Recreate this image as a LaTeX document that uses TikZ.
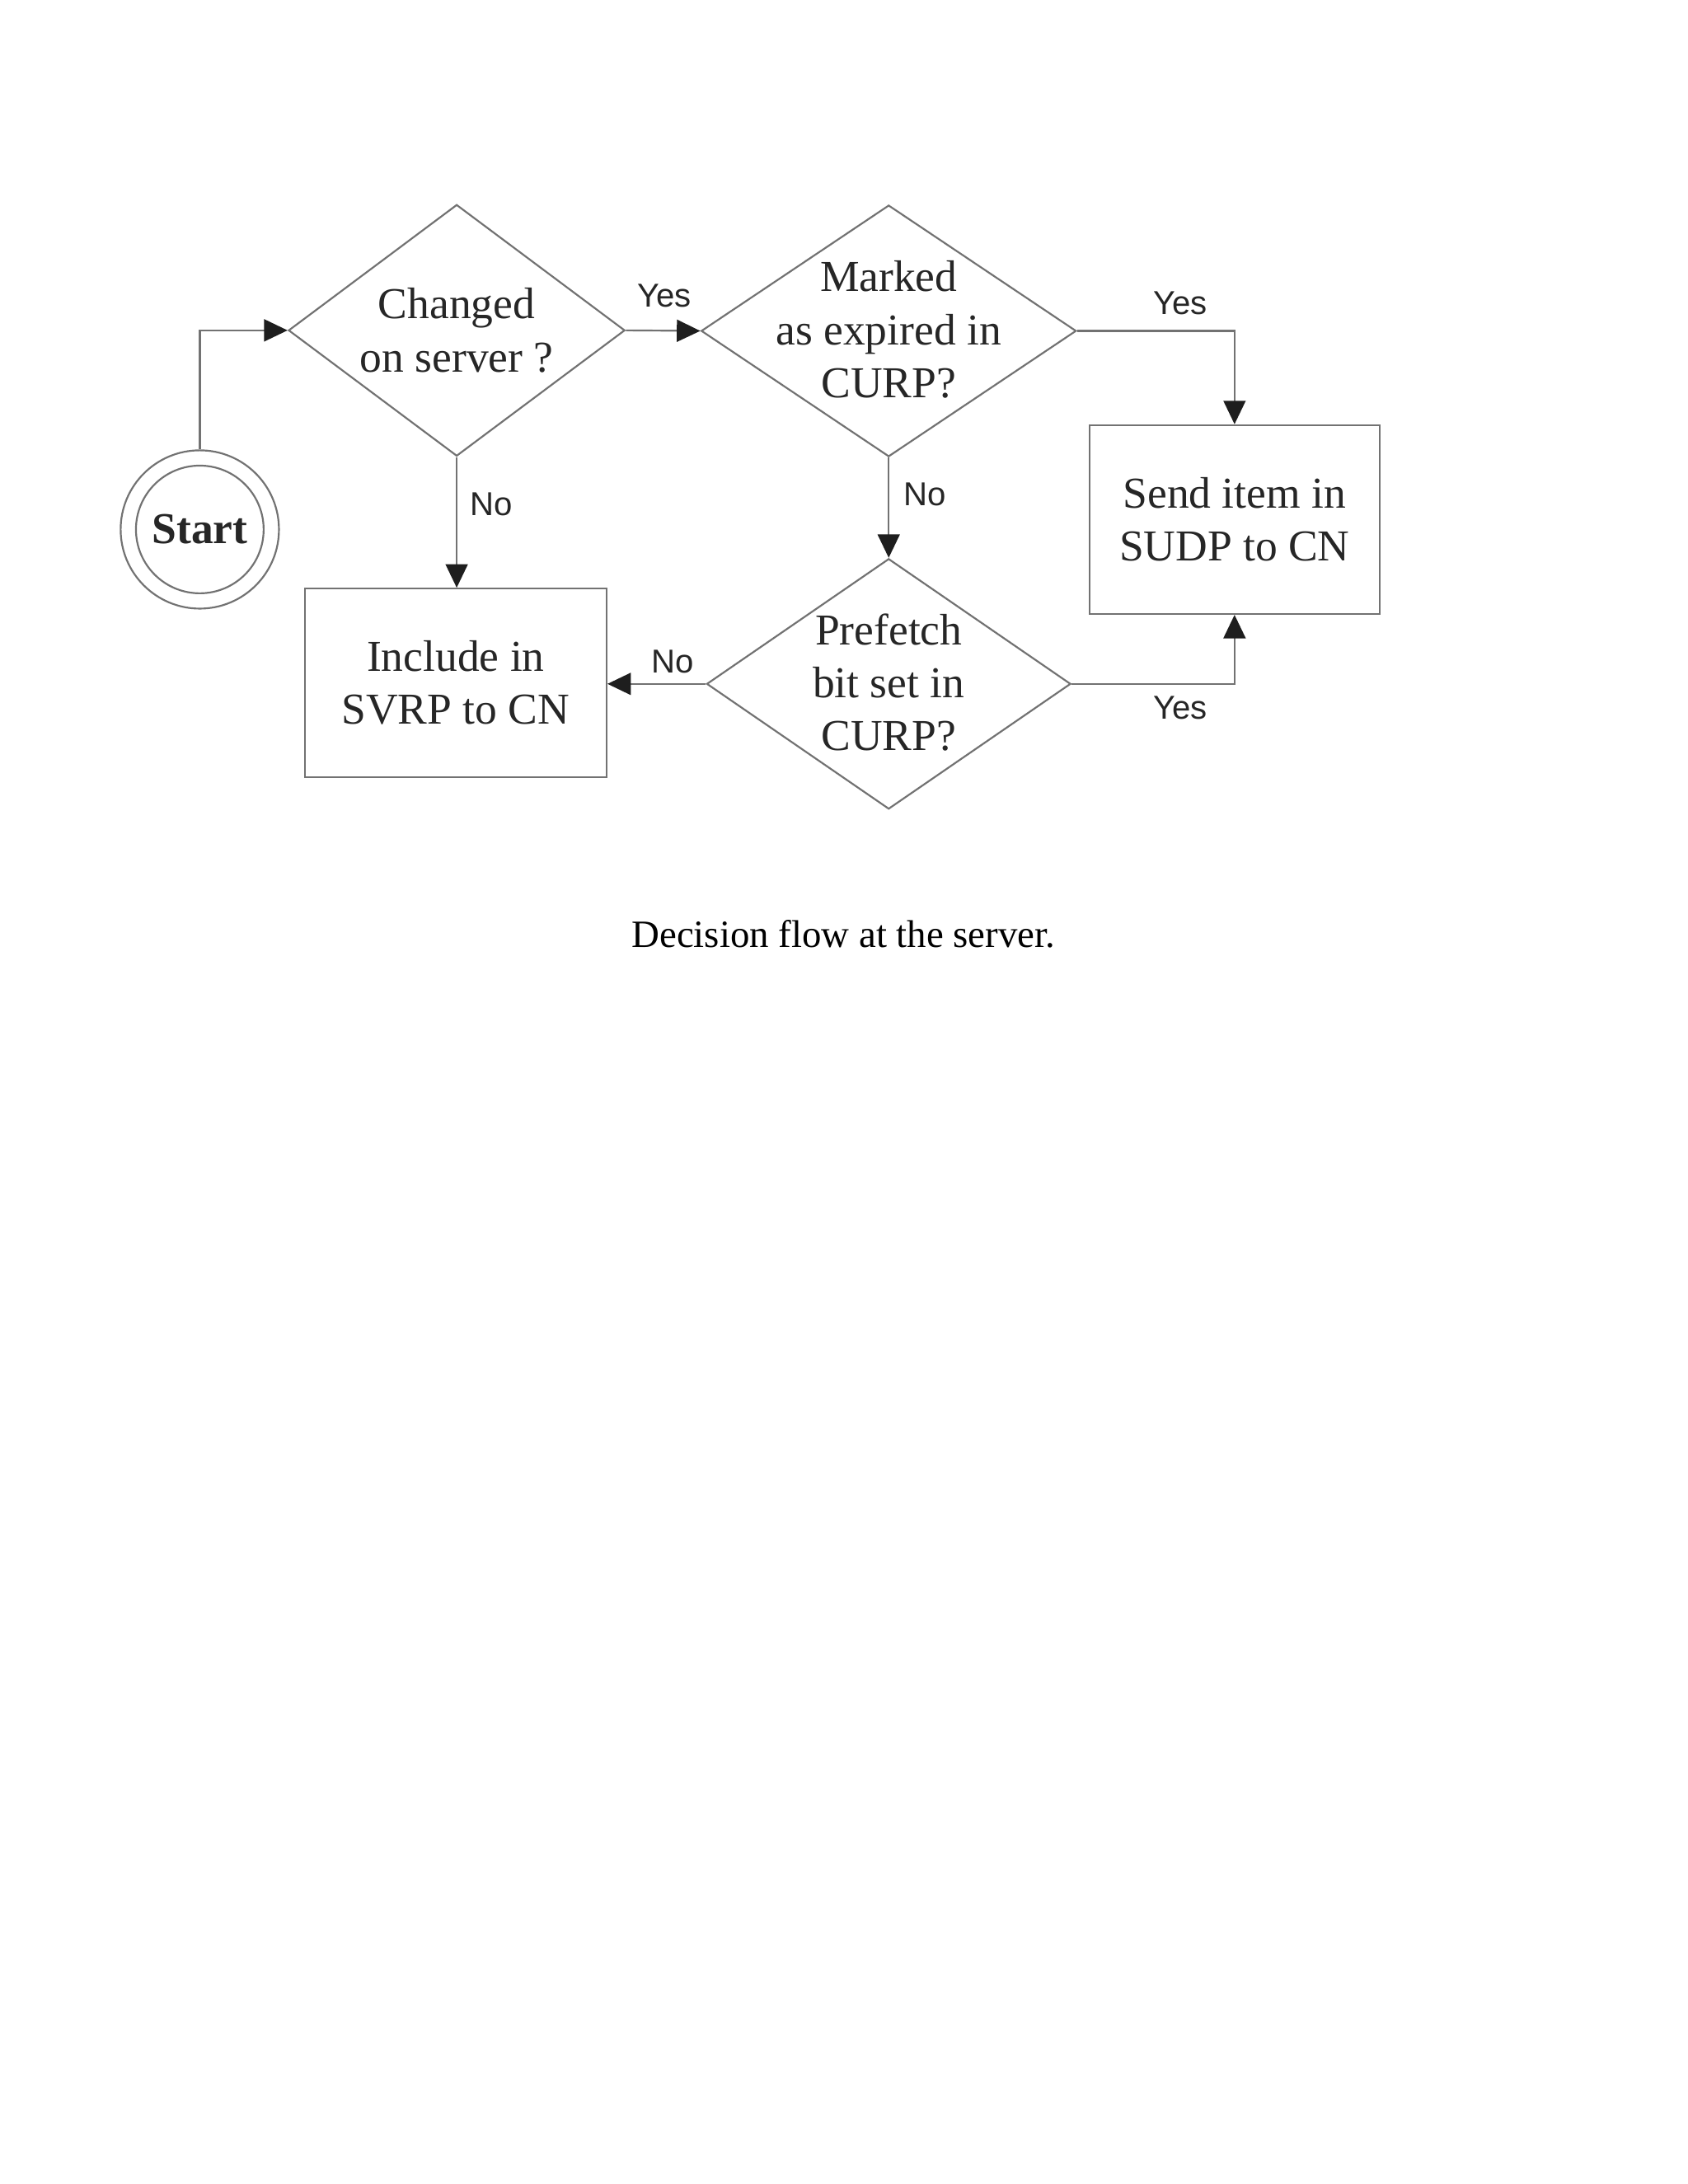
\documentclass[tikz,border=0pt]{standalone}
\usepackage{fontspec}
\setmainfont{Liberation Serif}
\newfontfamily\labfont{Liberation Sans}
\usetikzlibrary{shapes.geometric,arrows.meta}
\definecolor{linegray}{HTML}{727272}
\definecolor{textgray}{HTML}{262626}
\definecolor{tipgray}{HTML}{1E1E1E}
\begin{document}
\begin{tikzpicture}[x=0.5pt,y=-0.5pt,
 line/.style={draw=linegray,line width=0.65pt},
 arr/.style={line,-{Triangle[length=8.5pt,width=8pt,fill=tipgray,color=tipgray]}},
 dia/.style={diamond,draw=linegray,line width=0.65pt,inner sep=0pt},
 box/.style={rectangle,draw=linegray,line width=0.65pt,inner sep=0pt},
 txt/.style={align=center,font=\fontsize{16}{19.2}\selectfont,text=textgray,inner sep=0pt},
 lab/.style={font=\labfont\fontsize{12}{14}\selectfont,text=textgray,inner sep=0pt},
 ring/.style={circle,draw=linegray,line width=0.65pt,inner sep=0pt}]
\fill[white] (0,0) rectangle (1224,1584);
\useasboundingbox (0,0) rectangle (1224,1584);
% shapes
\node[dia,minimum width=122pt,minimum height=91.2pt] (d1) at (331.2,239.6) {};
\node[txt] (d1t) at (331.2,239.6) {Changed\\on server ?};
\node[dia,minimum width=136pt,minimum height=91.2pt] (d2) at (644.5,240) {};
\node[txt] (d2t) at (644.5,239) {Marked\\as expired in\\CURP?};
\node[dia,minimum width=132pt,minimum height=90.8pt] (d3) at (644.5,496) {};
\node[txt] (d3t) at (644.5,495) {Prefetch\\bit set in\\CURP?};
\node[box,minimum width=105.25pt,minimum height=68.5pt] (sudp) at (895.3,376.8) {};
\node[txt] (sudpt) at (895.3,376.8) {Send item in\\SUDP to CN};
\node[box,minimum width=109.4pt,minimum height=68.4pt] (svrp) at (330.5,495.3) {};
\node[txt] (svrpt) at (330.5,495.3) {Include in\\SVRP to CN};
\node[ring,minimum size=57.4pt] (start) at (144.9,384) {};
\node[ring,minimum size=46.3pt,font=\bfseries\fontsize{16}{19}\selectfont,text=textgray] (starti) at (144.9,384) {Start};
% connectors
\draw[arr] (start.north) |- (d1.west);
\draw[arr] (d1.east) -- (d2.west);
\draw[arr] (d1.south) -- (d1.south |- svrp.north);
\draw[arr] (d2.east) -| (sudp.north);
\draw[arr] (d2.south) -- (d3.north);
\draw[arr] (d3.west) -- (d3.west -| svrp.east);
\draw[arr] (d3.east) -| (sudp.south);
% labels
\node[lab] (l1) at (481.7,214.6) {Yes};
\node[lab] (l2) at (356.6,365.6) {No};
\node[lab] (l3) at (856,219.6) {Yes};
\node[lab] (l4) at (670.5,358.6) {No};
\node[lab] (l5) at (487.7,480) {No};
\node[lab] (l6) at (856,513.5) {Yes};
% caption
\node[font=\fontsize{14}{17}\selectfont,text=black,inner sep=0pt,anchor=base] (cap) at (611.7,686.9) {Decision flow at the server.};
\end{tikzpicture}
\end{document}
